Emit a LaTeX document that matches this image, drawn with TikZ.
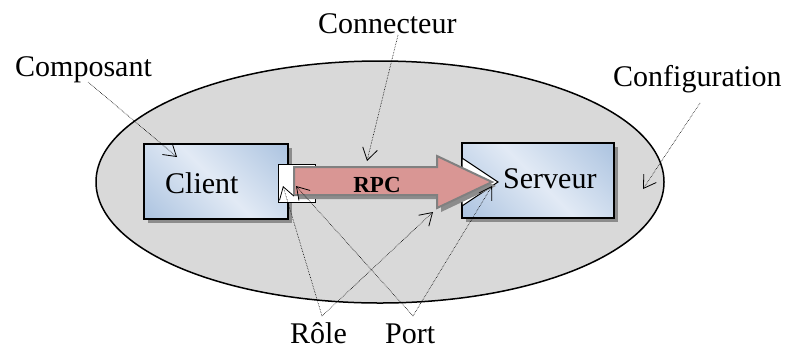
\documentclass[tikz,border=0pt]{standalone}
\usepackage{fontspec}
\setmainfont{Liberation Serif}
\usetikzlibrary{arrows.meta}
\definecolor{ellgray}{RGB}{217,217,217}
\definecolor{boxdark}{RGB}{149,179,215}
\definecolor{boxlight}{RGB}{226,234,245}
\definecolor{rpcfill}{RGB}{217,150,148}
\definecolor{rpcedge}{RGB}{128,128,128}
\definecolor{shadowgray}{RGB}{140,140,140}
\pgfdeclarehorizontalshading{boxshade}{100bp}{color(0bp)=(boxdark); color(50bp)=(boxlight); color(100bp)=(boxdark)}
\tikzset{
  lbl/.style={font=\fontsize{30bp}{34bp}\selectfont, inner sep=0pt, anchor=base west},
  comp/.style={draw=black, line width=1.8bp, shading=boxshade, shading angle=45},
  shadowbox/.style={fill=shadowgray, draw=none},
  portbox/.style={draw=black, line width=1bp, fill=white},
  leader/.style={densely dotted, line width=0.6bp, -{Straight Barb[length=12bp,width=15bp,line width=0.8bp]}},
}
\begin{document}
\begin{tikzpicture}[x=1bp,y=-1bp]
\useasboundingbox (0,0) rectangle (797,349);
% configuration ellipse
\draw[line width=1.5bp, fill=ellgray] (380,182) ellipse [x radius=284, y radius=121];
% client component
\fill[shadowbox] (148,148) rectangle (292,223);
\path[comp] (144,144) rectangle (288,219);
\node[lbl] (client) at (165,193) {Client};
% server component
\fill[shadowbox] (466,147) rectangle (618,222);
\path[comp] (462,143) rectangle (614,218);
\node[lbl] (serveur) at (503,188) {Serveur};
% ports / roles
\path[portbox] (278,164) rectangle (315,202);
\path[portbox] (462,158) -- (498,182) -- (462,206) -- cycle;
% RPC connector arrow
\fill[fill=shadowgray] (298,171) -- (441,171) -- (441,160) -- (496,186) -- (441,212) -- (441,199) -- (298,199) -- cycle;
\path[fill=rpcfill, draw=rpcedge, line width=2bp, line join=miter]
  (294,167) -- (437,167) -- (437,156) -- (492,182) -- (437,208) -- (437,195) -- (294,195) -- cycle;
\node[font=\fontsize{23bp}{26bp}\selectfont\bfseries, inner sep=0pt, anchor=base] (rpc) at (377,192) {RPC};
% labels
\node[lbl] (composant) at (15,76) {Composant};
\node[lbl] (connecteur) at (318,33) {Connecteur};
\node[lbl] (configuration) at (613,86) {Configuration};
\node[lbl] (role) at (290,343) {Rôle};
\node[lbl] (port) at (385,343) {Port};
% leader start/end points
\coordinate (cA) at (88,82);
\coordinate (cB) at (177,157);
\coordinate (nA) at (398,35);
\coordinate (nB) at (367,161);
\coordinate (gA) at (700,103);
\coordinate (gB) at (643,189);
\coordinate (rA) at (322,316);
\coordinate (pA) at (413,316);
\coordinate (clientport) at (283,186);
\coordinate (clientrole) at (296,186);
\coordinate (arrowrole) at (433,212);
\coordinate (serverport) at (492,186);
\draw[leader] (cA) -- (cB);
\draw[leader] (nA) -- (nB);
\draw[leader] (gA) -- (gB);
\draw[leader] (rA) -- (clientport);
\draw[leader] (rA) -- (arrowrole);
\draw[leader] (pA) -- (clientrole);
\draw[leader] (pA) -- (serverport);
\end{tikzpicture}
\end{document}
